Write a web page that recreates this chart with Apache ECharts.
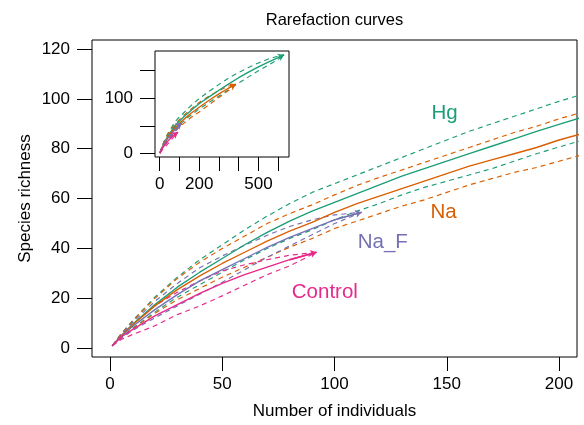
<!DOCTYPE html>
<html><head><meta charset="utf-8">
<script src="https://cdn.jsdelivr.net/npm/echarts@6/dist/echarts.min.js"></script>
<style>html,body{margin:0;padding:0;background:#fff}#c{width:584px;height:425px}</style>
</head><body><div id="c"></div>
<script>
// ---- data ----
const groups = ['Hg', 'Na', 'Na_F', 'Control'];

const hgN     = [1, 5, 10, 20, 30, 40, 50, 60, 70, 80, 90, 100, 110, 120, 130, 140, 150, 160, 170, 180, 190, 200, 210, 250, 300, 350, 400, 450, 500, 550, 600, 630];
const hgS     = [1, 5, 9.5, 17.5, 24.5, 30.5, 36, 41.5, 46.5, 51, 55, 58.5, 62, 65.5, 69, 72, 75, 78, 81, 84, 87, 89.8, 92.5, 102, 114, 125.5, 136.5, 146.5, 156, 164.5, 172.5, 177.5];
const hgUpper = [1, 5.8, 11, 20.5, 28.5, 35.5, 41.5, 47.5, 53, 58, 62.5, 66, 69.5, 73, 76.5, 80, 83.5, 87, 90, 93, 96, 99, 101.7, 112, 124.5, 136, 146, 155, 163, 170, 175.5, 177.5];
const hgLower = [1, 4.2, 8, 14.5, 20.5, 25.5, 30.5, 35.5, 40, 44, 47.5, 51.5, 55, 58, 61.5, 64.5, 67, 69.5, 72, 75, 78, 80.7, 83.3, 92, 103.5, 115, 127, 138, 149, 159, 169.5, 177.5];

const naN     = [1, 5, 10, 20, 30, 40, 50, 60, 70, 80, 90, 100, 110, 120, 130, 140, 150, 160, 170, 180, 190, 200, 210, 250, 300, 350, 385];
const naS     = [1, 5, 9.3, 17, 23.5, 29, 34, 38.5, 43, 47, 50.5, 54.5, 58, 61, 64, 67, 70, 73, 75.5, 78, 80.5, 83.5, 86, 96, 107.5, 118, 125];
const naUpper = [1, 5.8, 10.8, 20, 28, 34.5, 40, 45, 50, 54, 57.5, 61.5, 65.3, 68.5, 71.5, 74.5, 77.5, 80.5, 83.5, 86.5, 89, 92, 94.5, 103.5, 113.5, 121.5, 125];
const naLower = [1, 4.2, 7.8, 14, 19.5, 24, 28.5, 32.5, 36.5, 40.5, 44, 48, 51, 54, 57, 59.5, 62.5, 65.5, 68, 70.5, 72.5, 75, 77.5, 88, 101, 114, 125];

const nafN     = [1, 5, 10, 20, 30, 40, 50, 60, 70, 80, 90, 100, 112];
const nafS     = [1, 4.7, 8.7, 15.5, 21.5, 27, 31.5, 36, 40.5, 44.5, 48, 51.5, 54.5];
const nafUpper = [1, 5.5, 10.3, 18.8, 26, 32.3, 37, 41.3, 45.3, 48.8, 51.5, 53.5, 54.5];
const nafLower = [1, 3.9, 7.1, 12.2, 17, 21.7, 26.5, 31.5, 36.5, 41, 45.5, 50, 54.5];

const ctrlN     = [1, 5, 10, 20, 30, 40, 50, 60, 70, 80, 92];
const ctrlS     = [1, 4.5, 7.5, 13, 17.5, 22, 26, 29.5, 32.5, 35.5, 38.5];
const ctrlUpper = [1, 5.5, 9.5, 17, 22.5, 27, 31, 33.5, 35.5, 37.3, 38.5];
const ctrlLower = [1, 3.5, 5.5, 9, 13.5, 17, 21, 25.3, 29.5, 33, 38.5];

// tick values
const mainXTicks = [0, 50, 100, 150, 200];
const mainYTicks = [0, 20, 40, 60, 80, 100, 120];
const insetXTicks = [0, 100, 200, 300, 400, 500, 600];
const insetXLabels = [0, 200, 500];
const insetYTicks = [0, 50, 100, 150];
const insetYLabels = [0, 100];

// group name label anchors (data coordinates of the in-plot names)
const labelN = [149, 148.6, 121.5, 95.7];
const labelS = [94, 54.6, 42.3, 22.4];

// ---- styling ----
const colors = ['#1B9E77', '#D95F02', '#7570B3', '#E7298A'];
const FONT = '"Liberation Sans", Arial, Helvetica, sans-serif';
const sets = [
  [hgN, hgS, hgUpper, hgLower],
  [naN, naS, naUpper, naLower],
  [nafN, nafS, nafUpper, nafLower],
  [ctrlN, ctrlS, ctrlUpper, ctrlLower]
];
const axisMax = [208, 655];

function line(ns, vals, color, dashed, gi, name) {
  const s = {
    type: 'line', name: name, xAxisIndex: gi, yAxisIndex: gi,
    data: ns.map((n, i) => [n, vals[i]]),
    symbol: 'none', showSymbol: false, silent: true, animation: false, clip: true,
    smooth: false,
    lineStyle: { color: color, width: dashed ? 1.15 : 1.35, type: dashed ? [5, 4] : 'solid' },
    z: dashed ? 2 : 3
  };
  const L = ns.length;
  if (!dashed && ns[L - 1] <= axisMax[gi]) {
    s.markLine = {
      silent: true, animation: false, symbol: ['none', 'arrow'], symbolSize: 6,
      lineStyle: { color: color, width: 1.35, type: 'solid' },
      label: { show: false },
      emphasis: { disabled: true },
      data: [[{ coord: [ns[L - 2], vals[L - 2]] }, { coord: [ns[L - 1], vals[L - 1]] }]]
    };
  }
  return s;
}

const series = [];
[0, 1].forEach(gi => {
  sets.forEach((st, k) => {
    series.push(line(st[0], st[2], colors[k], true, gi, groups[k] + ' upper'));
    series.push(line(st[0], st[3], colors[k], true, gi, groups[k] + ' lower'));
    series.push(line(st[0], st[1], colors[k], false, gi, groups[k]));
  });
});
groups.forEach((g, k) => {
  series.push({
    type: 'scatter', xAxisIndex: 0, yAxisIndex: 0, silent: true, animation: false,
    symbolSize: 1, itemStyle: { color: 'rgba(0,0,0,0)' },
    data: [[labelN[k], labelS[k]]],
    label: { show: true, position: 'inside', formatter: g, color: colors[k], fontSize: 20.5, fontFamily: FONT, textBorderWidth: 0, textBorderColor: 'transparent', opacity: 1 },
    z: 5
  });
});

function xAx(gi, min, max, ticks, labels) {
  return {
    gridIndex: gi, type: 'value', min: min, max: max, position: 'bottom',
    axisLine: { show: false, onZero: false }, splitLine: { show: false },
    axisTick: { show: true, inside: false, length: 14, customValues: ticks, lineStyle: { color: '#000', width: 1 } },
    axisLabel: { customValues: labels, margin: 19, color: '#000', fontSize: 17, fontFamily: FONT }
  };
}
function yAx(gi, min, max, ticks, labels) {
  return {
    gridIndex: gi, type: 'value', min: min, max: max, position: 'left',
    axisLine: { show: false, onZero: false }, splitLine: { show: false },
    axisTick: { show: true, inside: false, length: 15, customValues: ticks, lineStyle: { color: '#000', width: 1 } },
    axisLabel: { customValues: labels, margin: 22, color: '#000', fontSize: 17, fontFamily: FONT }
  };
}

const chart = echarts.init(document.getElementById('c'), null, { renderer: 'canvas' });
chart.setOption({
  animation: false,
  backgroundColor: '#fff',
  grid: [
    { left: 92, right: 7, top: 40, bottom: 68, show: true, borderColor: '#000', borderWidth: 1, backgroundColor: 'transparent' },
    { left: 155, width: 134, top: 51, height: 106, show: true, borderColor: '#000', borderWidth: 1, backgroundColor: 'transparent' }
  ],
  xAxis: [
    xAx(0, -8, 208, mainXTicks, mainXTicks),
    xAx(1, -24, 655, insetXTicks, insetXLabels)
  ],
  yAxis: [
    yAx(0, -3.5, 123.6, mainYTicks, mainYTicks),
    yAx(1, -6, 184.5, insetYTicks, insetYLabels)
  ],
  series: series,
  graphic: [
    { type: 'text', x: 334.5, y: 20, style: { text: 'Rarefaction curves', align: 'center', verticalAlign: 'middle', font: '16.5px ' + FONT, fill: '#000' } },
    { type: 'text', x: 334.5, y: 411, style: { text: 'Number of individuals', align: 'center', verticalAlign: 'middle', font: '17px ' + FONT, fill: '#000' } },
    { type: 'text', x: 25, y: 198.5, rotation: Math.PI / 2, style: { text: 'Species richness', align: 'center', verticalAlign: 'middle', font: '17px ' + FONT, fill: '#000' } }
  ]
});
</script>
</body></html>
